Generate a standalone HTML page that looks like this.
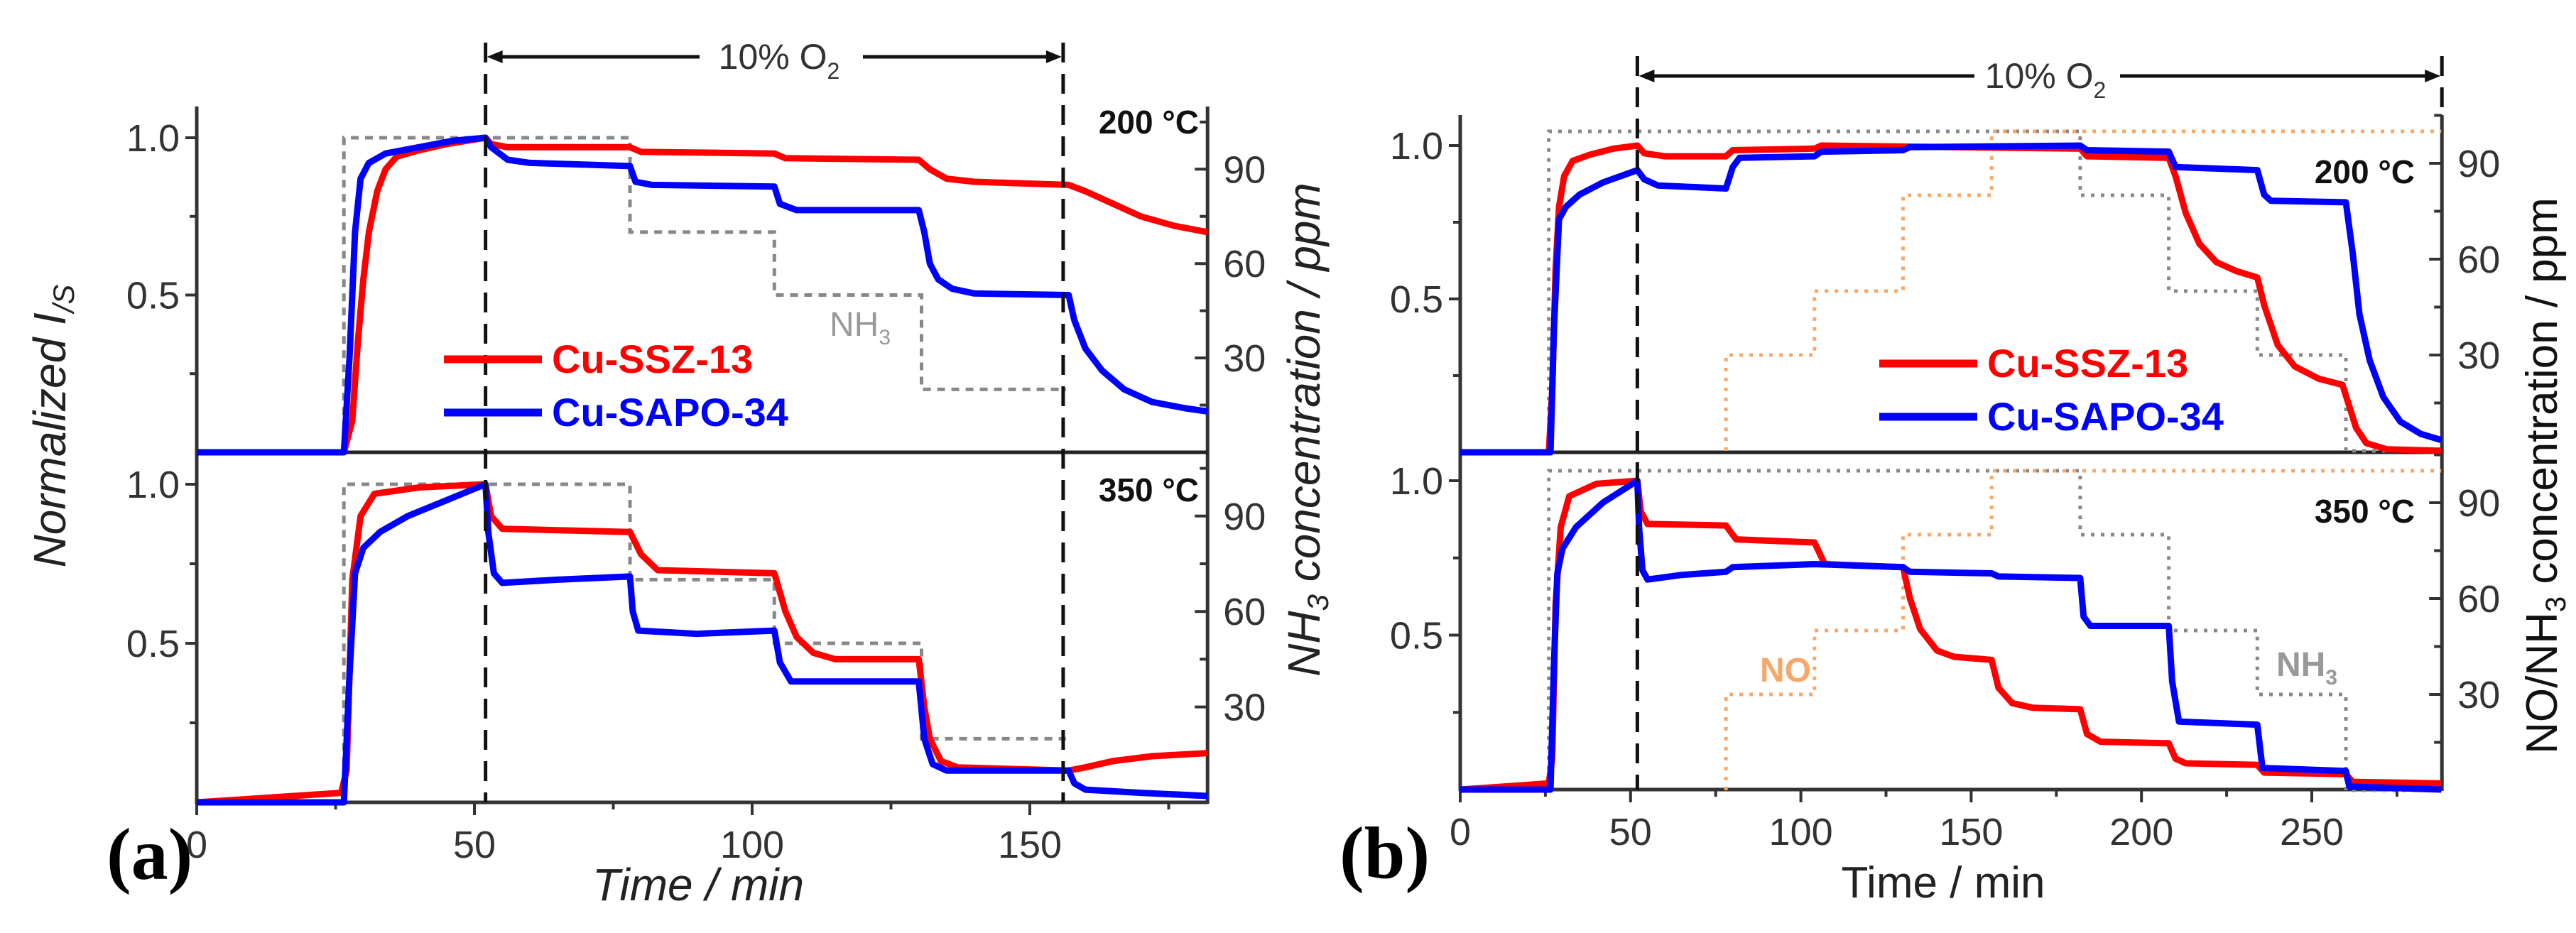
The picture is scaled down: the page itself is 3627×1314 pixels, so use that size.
<!DOCTYPE html>
<html><head><meta charset="utf-8">
<style>
html,body{margin:0;padding:0;background:#fff;}
svg{display:block;}
text{font-family:"Liberation Sans",sans-serif;}
</style></head>
<body>
<svg id="fig" width="3627" height="1314" viewBox="0 0 3627 1314" xmlns="http://www.w3.org/2000/svg"></svg>
<script>
// ===== Panel (a) data: [time(min), normalized value] =====
const aTopRed = [[0,0],[26.5,0],[28,0.1],[29,0.35],[30,0.55],[31,0.7],[32.5,0.83],[34,0.9],[36,0.94],[40,0.96],[45,0.98],[52,1.0],[53,0.98],[56,0.97],[78,0.97],[80,0.955],[104,0.95],[106,0.935],[130,0.93],[132,0.9],[135,0.87],[140,0.86],[157,0.85],[160,0.83],[165,0.79],[170,0.75],[176,0.72],[182,0.70]];
const aTopBlue = [[0,0],[26.5,0],[27.5,0.3],[28.5,0.7],[29.5,0.87],[31,0.92],[34,0.95],[40,0.97],[46,0.99],[52,1.0],[53,0.97],[56,0.93],[60,0.92],[78,0.91],[79,0.86],[82,0.85],[104,0.845],[105,0.79],[108,0.77],[130,0.77],[131,0.7],[132,0.6],[133.5,0.55],[136,0.52],[140,0.505],[157,0.5],[158,0.42],[160,0.33],[163,0.26],[167,0.2],[172,0.16],[178,0.14],[182,0.13]];
const aBotRed = [[0,0],[26,0.03],[27,0.1],[28,0.7],[29.5,0.9],[32,0.97],[40,0.99],[52,1.0],[53,0.9],[55,0.86],[78,0.85],[80,0.78],[83,0.73],[104,0.72],[106,0.6],[108,0.52],[111,0.47],[115,0.45],[130,0.45],[131,0.3],[132,0.2],[134,0.13],[137,0.11],[157,0.1],[160,0.11],[165,0.13],[172,0.145],[182,0.155]];
const aBotBlue = [[0,0],[26.5,0],[27.5,0.4],[28.5,0.72],[30,0.8],[33,0.85],[38,0.9],[45,0.95],[52,1.0],[52.5,0.85],[53.5,0.72],[55,0.69],[65,0.7],[78,0.71],[78.5,0.6],[79.5,0.54],[90,0.53],[104,0.54],[105,0.44],[107,0.38],[130,0.38],[131,0.2],[132.5,0.12],[135,0.1],[157,0.1],[158,0.06],[160,0.04],[170,0.03],[182,0.02]];
// NH3 feed steps (a), ppm
const aNH3Times = [0,26.5,78,104,130.5,156.5];
const aNH3Ppm = [0,100,70,50,20];

// ===== Panel (b) data =====
const bTopRed = [[0,0],[26,0],[27,0.2],[28,0.6],[29,0.8],[30.5,0.9],[33,0.95],[38,0.97],[45,0.99],[52,1.0],[54,0.975],[60,0.965],[78,0.965],[80,0.985],[104,0.99],[106,1.0],[182,0.99],[184,0.965],[208,0.96],[210,0.9],[213,0.78],[217,0.68],[222,0.62],[228,0.59],[234,0.57],[236,0.48],[240,0.35],[245,0.28],[252,0.24],[259,0.22],[261,0.15],[263,0.08],[266,0.03],[272,0.01],[288,0.005]];
const bTopBlue = [[0,0],[26.5,0],[27.5,0.4],[29,0.76],[31,0.8],[35,0.84],[42,0.88],[52,0.92],[54,0.89],[58,0.87],[78,0.86],[80,0.93],[82,0.96],[104,0.965],[106,0.98],[130,0.985],[132,0.995],[182,1.0],[184,0.985],[208,0.98],[210,0.93],[234,0.92],[236,0.84],[238,0.82],[260,0.815],[262,0.65],[264,0.45],[267,0.3],[271,0.18],[276,0.1],[282,0.06],[288,0.04]];
const bBotRed = [[0,0],[26,0.02],[27,0.1],[28,0.6],[29.5,0.85],[32,0.95],[40,0.99],[52,1.0],[53,0.9],[55,0.86],[78,0.855],[81,0.81],[104,0.80],[107,0.73],[130,0.72],[132,0.62],[135,0.52],[140,0.45],[145,0.43],[156,0.42],[158,0.33],[162,0.28],[168,0.265],[182,0.26],[184,0.18],[188,0.155],[208,0.15],[210,0.1],[213,0.085],[234,0.08],[236,0.055],[260,0.05],[262,0.025],[288,0.02]];
const bBotBlue = [[0,0],[26.5,0],[27.5,0.4],[28.5,0.7],[30,0.78],[34,0.85],[42,0.93],[52,1.0],[52.5,0.85],[53.5,0.71],[55,0.68],[65,0.695],[78,0.705],[80,0.72],[104,0.73],[130,0.72],[132,0.705],[156,0.70],[158,0.69],[182,0.685],[183,0.56],[185,0.53],[208,0.53],[209,0.35],[211,0.22],[234,0.21],[235.5,0.07],[260,0.06],[261,0.01],[288,0.0]];
const bNH3Times = [0,26,182,208,234,260,288];
const bNH3Ppm = [0,100,80,50,30,0];
const bNOTimes = [78,104,130,156,288];
const bNOPpm = [30,50,80,100];

// tick label arrays
const aXTicks = [0,50,100,150];
const bXTicks = [0,50,100,150,200,250];
const yTicks = [0.5,1.0];
const ppmTicks = [30,60,90];

const NS = "http://www.w3.org/2000/svg";
const svg = document.getElementById('fig');
function el(tag, attrs, parent){
  const e = document.createElementNS(NS, tag);
  for (const k in attrs) e.setAttribute(k, attrs[k]);
  (parent||svg).appendChild(e);
  return e;
}
function txt(s, attrs, name, parent){
  const t = el('text', attrs, parent);
  t.textContent = s;
  
  
  return t;
}

// geometry
const PA = {x0:277, ppx:7.82, tmax:182, top:150, mid:637, bot:1130,
  yTop:v=>637-v*443, yBot:v=>1130-v*448, pTop:p=>637-p*4.43, pBot:p=>1130-p*4.48};
const PB = {x0:2056, ppx:4.796, tmax:288.2, top:162, mid:637, bot:1112,
  yTop:v=>637-v*432, yBot:v=>1112-v*435, pTop:p=>635-p*4.5, pBot:p=>1113-p*4.5};

function xs(P,t){return P.x0 + t*P.ppx;}

function series(P, data, yf, color, name){
  const pts = data.map(d=>xs(P,d[0]).toFixed(1)+','+yf(d[1]).toFixed(1)).join(' ');
  const l = el('polyline',{points:pts, fill:'none', stroke:color, 'stroke-width':9, 'stroke-linejoin':'round','stroke-linecap':'butt'});
  
  
}
function steps(P, times, levels, pf, color, dash, name, startZero){
  let pts = [];
  if (startZero) pts.push([times[0], 0]);
  for (let i=0;i<levels.length;i++){
    pts.push([times[i], levels[i]]);
    pts.push([times[i+1], levels[i]]);
  }
  const s = pts.map(d=>xs(P,d[0]).toFixed(1)+','+pf(d[1]).toFixed(1)).join(' ');
  const l = el('polyline',{points:s, fill:'none', stroke:color, 'stroke-width':5, 'stroke-dasharray':dash});
  
  
}

function frame(P, prefix, xticks, italicTitle){
  const R = xs(P,P.tmax);
  const g = el('g',{});
  
  
  el('line',{x1:P.x0,y1:P.top,x2:P.x0,y2:P.bot+2,stroke:'#333','stroke-width':5},g);
  el('line',{x1:R,y1:P.top,x2:R,y2:P.bot+2,stroke:'#333','stroke-width':5},g);
  el('line',{x1:P.x0,y1:P.bot,x2:R,y2:P.bot,stroke:'#333','stroke-width':5},g);
  el('line',{x1:P.x0,y1:P.mid,x2:R,y2:P.mid,stroke:'#222','stroke-width':5},g);
  // x ticks
  for (let t=0;t<=P.tmax;t+=25){
    const major = (t%50===0);
    el('line',{x1:xs(P,t),y1:P.bot,x2:xs(P,t),y2:P.bot+(major?18:10),stroke:'#333','stroke-width':4},g);
  }
  xticks.forEach(t=>{
    txt(String(t),{x:xs(P,t),y:P.bot+78,'font-size':54,'text-anchor':'middle',fill:'#333'},prefix+'-x-tick-label',g);
  });
  // y ticks both subplots
  [[P.yTop,P.pTop,'top'],[P.yBot,P.pBot,'bottom']].forEach(([yf,pf,nm])=>{
    [0.25,0.5,0.75,1.0].forEach(v=>{
      const major = (v===0.5||v===1.0);
      el('line',{x1:P.x0,y1:yf(v),x2:P.x0-(major?16:10),y2:yf(v),stroke:'#333','stroke-width':4},g);
    });
    yTicks.forEach(v=>{
      txt(v.toFixed(1),{x:P.x0-24,y:yf(v)+19,'font-size':54,'text-anchor':'end',fill:'#333'},prefix+'-'+nm+'-y-tick-label',g);
    });
    [15,30,45,60,75,90,105].forEach(p=>{
      const major = (p%30===0);
      el('line',{x1:R,y1:pf(p),x2:R-(major?18:11),y2:pf(p),stroke:'#333','stroke-width':4},g);
    });
    ppmTicks.forEach(p=>{
      txt(String(p),{x:R+22,y:pf(p)+19,'font-size':54,fill:'#333'},prefix+'-'+nm+'-ppm-tick-label',g);
    });
  });
}

// ===== Panel A =====
frame(PA,'panel-a',aXTicks);
steps(PA,aNH3Times,aNH3Ppm,PA.pTop,'#888','11 9','a-top-nh3-feed',false);
steps(PA,aNH3Times,aNH3Ppm,PA.pBot,'#888','11 9','a-bottom-nh3-feed',false);
series(PA,aTopRed,PA.yTop,'#ff0000','a-top-cu-ssz-13');
series(PA,aTopBlue,PA.yTop,'#0000ff','a-top-cu-sapo-34');
series(PA,aBotRed,PA.yBot,'#ff0000','a-bottom-cu-ssz-13');
series(PA,aBotBlue,PA.yBot,'#0000ff','a-bottom-cu-sapo-34');

// ===== Panel B =====
frame(PB,'panel-b',bXTicks);
steps(PB,bNH3Times,bNH3Ppm,PB.pTop,'#888','5 9','b-top-nh3-feed',false);
steps(PB,bNH3Times,bNH3Ppm,PB.pBot,'#888','5 9','b-bottom-nh3-feed',false);
steps(PB,bNOTimes,bNOPpm,PB.pTop,'#f7a868','5 9','b-top-no-feed',true);
steps(PB,bNOTimes,bNOPpm,PB.pBot,'#f7a868','5 9','b-bottom-no-feed',true);
series(PB,bTopRed,PB.yTop,'#ff0000','b-top-cu-ssz-13');
series(PB,bTopBlue,PB.yTop,'#0000ff','b-top-cu-sapo-34');
series(PB,bBotRed,PB.yBot,'#ff0000','b-bottom-cu-ssz-13');
series(PB,bBotBlue,PB.yBot,'#0000ff','b-bottom-cu-sapo-34');

// O2 markers
function vdash(x,y1,y2,name){
  const l = el('line',{x1:x,y1:y1,x2:x,y2:y2,stroke:'#111','stroke-width':5,'stroke-dasharray':'28 16'});
  
  
}
vdash(xs(PA,52),60,PA.bot,'a-o2-start-line');
vdash(xs(PA,156),60,PA.bot,'a-o2-end-line');
vdash(xs(PB,52),79,PB.bot,'b-o2-start-line');
vdash(xs(PB,PB.tmax),79,PB.top,'b-o2-end-line');

function arrow(x1,x2,y,g1,g2,tx,name){
  const g = el('g',{});
  
  
  el('line',{x1:x1+14,y1:y,x2:g1,y2:y,stroke:'#111','stroke-width':5},g);
  el('line',{x1:g2,y1:y,x2:x2-14,y2:y,stroke:'#111','stroke-width':5},g);
  el('polygon',{points:`${x1+2},${y} ${x1+24},${y-9} ${x1+24},${y+9}`,fill:'#111'},g);
  el('polygon',{points:`${x2-2},${y} ${x2-24},${y-9} ${x2-24},${y+9}`,fill:'#111'},g);
  const t = txt('',{x:tx,y:y+17,'font-size':50,fill:'#333','text-anchor':'middle'},name+'-label',g);
  t.innerHTML = '10% O<tspan font-size="32" dy="14">2</tspan>';
}
arrow(xs(PA,52),xs(PA,156),80,985,1215,1097,'a-o2-arrow');
arrow(xs(PB,52),xs(PB,PB.tmax),107,2780,2985,2880,'b-o2-arrow');

// temperature labels
txt('200 °C',{x:1688,y:188,'font-size':46,'font-weight':'bold','text-anchor':'end',fill:'#111'},'a-200c-label');
txt('350 °C',{x:1688,y:706,'font-size':46,'font-weight':'bold','text-anchor':'end',fill:'#111'},'a-350c-label');
txt('200 °C',{x:3400,y:258,'font-size':46,'font-weight':'bold','text-anchor':'end',fill:'#111'},'b-200c-label');
txt('350 °C',{x:3400,y:736,'font-size':46,'font-weight':'bold','text-anchor':'end',fill:'#111'},'b-350c-label');

// NH3 / NO annotations
let t1 = txt('',{x:1168,y:473,'font-size':48,fill:'#999'},'a-nh3-annotation');
t1.innerHTML='NH<tspan font-size="30" dy="12">3</tspan>';
let t2 = txt('',{x:3205,y:952,'font-size':48,fill:'#999','font-weight':'bold'},'b-nh3-annotation');
t2.innerHTML='NH<tspan font-size="30" dy="12">3</tspan>';
txt('NO',{x:2478,y:960,'font-size':48,fill:'#f7a868','font-weight':'bold'},'b-no-annotation');

// legends
function legend(x,y,color,label,name){
  const g = el('g',{});
  
  
  el('line',{x1:x,y1:y,x2:x+138,y2:y,stroke:color,'stroke-width':11},g);
  txt(label,{x:x+152,y:y+19,'font-size':56,'font-weight':'bold',fill:color},name+'-text',g);
}
legend(625,506,'#ff0000','Cu-SSZ-13','a-legend-ssz13');
legend(625,581,'#0000ff','Cu-SAPO-34','a-legend-sapo34');
legend(2646,512,'#ff0000','Cu-SSZ-13','b-legend-ssz13');
legend(2646,587,'#0000ff','Cu-SAPO-34','b-legend-sapo34');

// axis titles
let yt = txt('',{x:0,y:0,'font-size':64,'font-style':'italic','text-anchor':'middle',fill:'#222',transform:'translate(92,600) rotate(-90)'},'a-y-axis-title');
yt.innerHTML='Normalized I<tspan font-size="42" dy="12">/S</tspan>';
let mt = txt('',{x:0,y:0,'font-size':64,'font-style':'italic','text-anchor':'middle',fill:'#222',transform:'translate(1858,605) rotate(-90)'},'a-right-axis-title');
mt.innerHTML='NH<tspan font-size="42" dy="12">3</tspan><tspan dy="-12"> concentration / ppm</tspan>';
let rt = txt('',{x:0,y:0,'font-size':62,'text-anchor':'middle',fill:'#111',transform:'translate(3600,670) rotate(-90)'},'b-right-axis-title');
rt.innerHTML='NO/NH<tspan font-size="40" dy="12">3</tspan><tspan dy="-12"> concentration / ppm</tspan>';
txt('Time / min',{x:983,y:1268,'font-size':64,'font-style':'italic','text-anchor':'middle',fill:'#222'},'a-x-axis-title');
txt('Time / min',{x:2736,y:1264,'font-size':62,'text-anchor':'middle',fill:'#222'},'b-x-axis-title');

// panel letters
txt('(a)',{x:150,y:1238,'font-size':104,'font-weight':'bold',fill:'#000',style:'font-family:"Liberation Serif",serif'},'panel-a-letter');
txt('(b)',{x:1886,y:1236,'font-size':104,'font-weight':'bold',fill:'#000',style:'font-family:"Liberation Serif",serif'},'panel-b-letter');
</script>
</body></html>
